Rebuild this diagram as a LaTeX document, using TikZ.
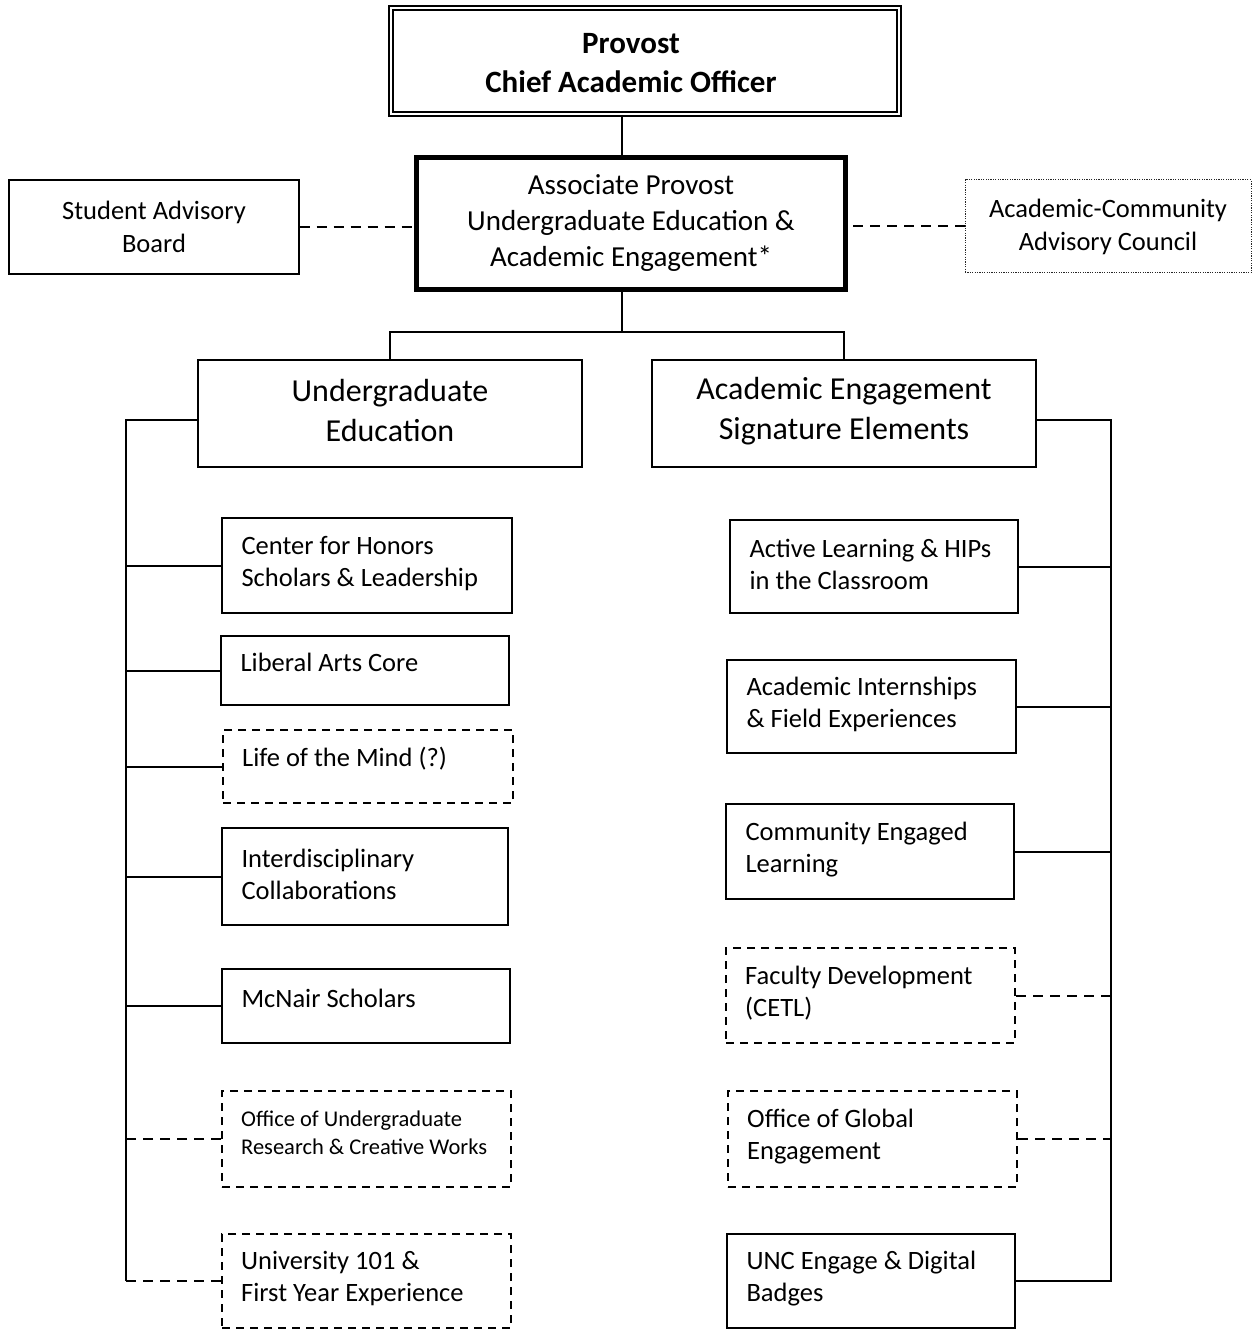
\documentclass[tikz,border=0pt]{standalone}
\usepackage{fontspec}
\setmainfont{Carlito}
\newcommand\lbox[8]{%
  \pgfmathsetmacro\BXw{#4-#2}\pgfmathsetmacro\BXh{#5-#3}%
  \node[#6, minimum width=\BXw pt, minimum height=\BXh pt] (#1) at ({(#2+#4)/2},{(#3+#5)/2}) {};
  \node[#7, anchor=west, align=left, inner sep=0pt, yshift=2pt] (#1-t) at ([xshift=20pt]#1.west) {#8};}
\begin{document}
\begin{tikzpicture}[x=1pt,y=-1pt,
  box/.style={draw, line width=1.3pt, inner sep=0pt},
  dbox/.style={box, line width=2pt, dash pattern=on 8pt off 6pt},
  conn/.style={line width=2pt},
  dconn/.style={line width=2pt, dash pattern=on 10pt off 7pt},
  body/.style={font=\fontsize{26.5}{32}\selectfont},
  one/.style={body, yshift=6pt},
  small/.style={font=\fontsize{22.5}{28}\selectfont, yshift=4pt}]
\useasboundingbox (0,0) rectangle (1252,1329);

% top
\node[draw, double, double distance=2.5pt, line width=1.6pt, minimum width=508pt, minimum height=106pt,
      inner sep=0pt] (prov) at (645,61) {};
\node[align=center, inner sep=0pt, font=\bfseries\fontsize{31}{39}\selectfont] (prov-t) at (631,63)
      {Provost\\Chief Academic Officer};
\node[draw, line width=5pt, minimum width=429pt, minimum height=132pt, align=center, inner sep=0pt,
      font=\fontsize{29}{36}\selectfont] (assoc) at (631,223.5)
      {Associate Provost\\Undergraduate Education \&\\Academic Engagement*};
\node[box, minimum width=290pt, minimum height=94pt, align=center, font=\fontsize{26.5}{33}\selectfont] (sab) at (154,227)
      {Student Advisory\\Board};
\node[draw, line width=1pt, dash pattern=on 1.2pt off 1.2pt, draw=black!85, inner sep=0pt, minimum width=286pt, minimum height=93pt,
      align=center, font=\fontsize{26.5}{33}\selectfont] (acac) at (1108,226.5)
      {Academic-Community\\Advisory Council};
\node[box, minimum width=384pt, minimum height=107pt] (ue) at (390,413.5) {};
\node[align=center, inner sep=0pt, font=\fontsize{32}{40}\selectfont] (ue-t) at (390,411)
      {Undergraduate\\Education};
\node[box, minimum width=384pt, minimum height=107pt] (ae) at (844,413.5) {};
\node[align=center, inner sep=0pt, font=\fontsize{32}{40}\selectfont] (ae-t) at (844,411)
      {Academic Engagement\\Signature Elements};

% left column
\lbox{honors}{222}{518}{512}{613}{box}{body}{Center for Honors\\Scholars \& Leadership}
\lbox{lac}{221}{636}{509}{705}{box}{one}{Liberal Arts Core}
\lbox{lotm}{223}{730}{513}{803}{dbox}{one}{Life of the Mind (?)}
\lbox{inter}{222}{828}{508}{925}{box}{body}{Interdisciplinary\\Collaborations}
\lbox{mcnair}{222}{969}{510}{1043}{box}{one}{McNair Scholars}
\lbox{ours}{222}{1091}{511}{1187}{dbox}{small}{Office of Undergraduate\\Research \& Creative Works}
\lbox{u101}{222}{1234}{511}{1328}{dbox}{body}{University 101 \&\\First Year Experience}

% right column
\lbox{active}{730}{520}{1018}{613}{box}{body}{Active Learning \& HIPs\\in the Classroom}
\lbox{intern}{727}{660}{1016}{753}{box}{body}{Academic Internships\\\& Field Experiences}
\lbox{cel}{726}{804}{1014}{899}{box}{body}{Community Engaged\\Learning}
\lbox{fdev}{726}{948}{1015}{1043}{dbox}{body}{Faculty Development\\(CETL)}
\lbox{oge}{728}{1091}{1017}{1187}{dbox}{body}{Office of Global\\Engagement}
\lbox{unc}{727}{1234}{1015}{1328}{box}{body}{UNC Engage \& Digital\\Badges}

% connectors top
\coordinate (X) at (622,0);
\coordinate (J) at (622,332);
\draw[conn] (prov.south -| X) -- (assoc.north -| X);
\draw[conn] (assoc.south -| J) -- (J);
\draw[conn] (ue.north) |- (J) -| (ae.north);
\draw[dconn] (sab.east) -- (sab.east -| assoc.west);
\draw[dconn] (acac.west) -- (acac.west -| assoc.east);

% left bus
\coordinate (LB) at (126,420);
\draw[conn] (ue.west |- LB) -- (LB) -- (LB |- u101.west);
\draw[dconn] (LB |- u101.west) -- (u101.west);
\foreach \n in {honors,lac,lotm,inter,mcnair}
  \draw[conn] (\n.west) -- (\n.west -| LB);
\draw[dconn] (ours.west) -- (ours.west -| LB);

% right bus
\coordinate (RB) at (1111,420);
\draw[conn] (ae.east |- RB) -- (RB) |- (unc.east);
\foreach \n in {active,intern,cel}
  \draw[conn] (\n.east) -- (\n.east -| RB);
\foreach \n in {fdev,oge}
  \draw[dconn] (\n.east) -- (\n.east -| RB);
\end{tikzpicture}
\end{document}
